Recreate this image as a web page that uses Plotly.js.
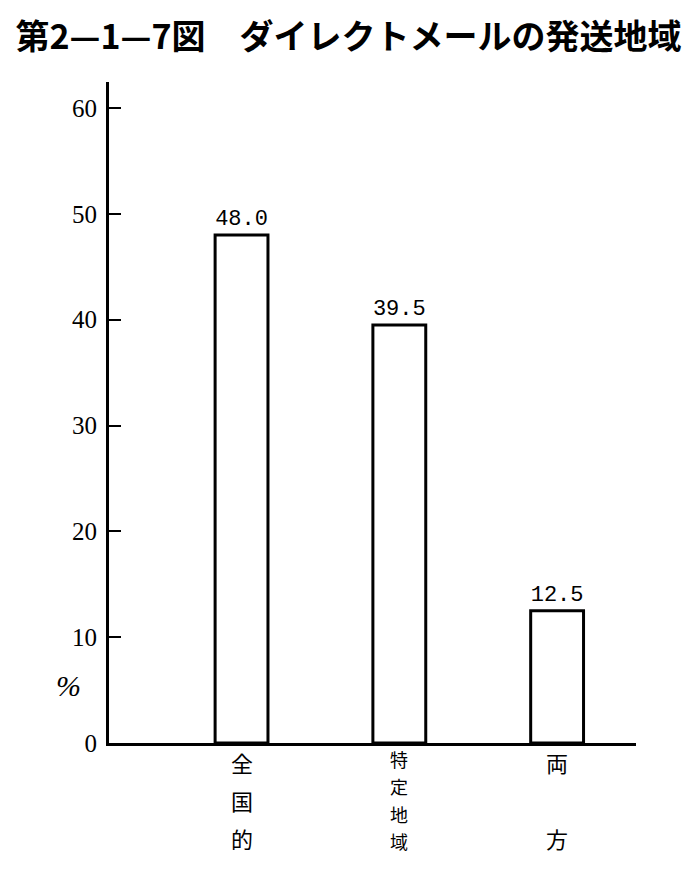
<!DOCTYPE html>
<html>
<head>
<meta charset="utf-8">
<script src="https://cdn.plot.ly/plotly-3.0.1.min.js"></script>
<style>html,body{margin:0;padding:0;background:#fff;}#chart{width:697px;height:873px;}</style>
</head>
<body>
<div id="chart"></div>
<script>
// Data
const categories = ["全国的", "特定地域", "両方"];
const values = [48.0, 39.5, 12.5];
const yTickVals = [0, 10, 20, 30, 40, 50, 60];
const yTickText = ["0", "10", "20", "30", "40", "50", "60"];
const titleText = "第2—1—7図　ダイレクトメールの発送地域";
const unitLabel = "%";

const W = 697, H = 873;
const M = {l: 109, r: 61, t: 82, b: 130};
const plotH = H - M.t - M.b;
const plotW = W - M.l - M.r;

const xIdx = categories.map((c, i) => i);

const trace = {
  type: "bar",
  x: xIdx,
  y: values,
  width: 0.335,
  marker: {color: "#ffffff", line: {color: "#000000", width: 3}},
  text: values.map(v => v.toFixed(1)),
  textposition: "outside",
  cliponaxis: false,
  textfont: {family: "Liberation Mono, monospace", size: 23, color: "#000"},
  hoverinfo: "skip"
};

// vertical category labels: one annotation per character
const annotations = [];
const toPaperY = py => (H - M.b - py) / plotH;
categories.forEach((c, i) => {
  const chars = Array.from(c);
  const n = chars.length;
  const tight = n >= 4;
  const firstPx = tight ? 759 : 762;
  const lastPx = tight ? 841 : 838;
  const size = tight ? 18 : 22;
  chars.forEach((ch, k) => {
    const py = n > 1 ? firstPx + (lastPx - firstPx) * k / (n - 1) : firstPx;
    annotations.push({
      x: i, xref: "x",
      y: toPaperY(py), yref: "paper",
      text: ch, showarrow: false,
      xanchor: "center", yanchor: "middle",
      font: {family: "Noto Sans CJK JP", size: size, color: "#000"}
    });
  });
});
annotations.push({
  x: (68 - M.l) / plotW, xref: "paper",
  y: toPaperY(685), yref: "paper",
  text: "<i>" + unitLabel + "</i>", showarrow: false,
  xanchor: "center", yanchor: "middle",
  font: {family: "Liberation Serif, serif", size: 30, color: "#000"}
});

const layout = {
  width: W, height: H,
  margin: M,
  paper_bgcolor: "#fff", plot_bgcolor: "#fff",
  showlegend: false,
  title: {
    text: "<b>" + titleText + "</b>",
    xref: "container", x: 0.5, xanchor: "center",
    yref: "container", y: 1 - 37 / H, yanchor: "middle",
    font: {family: "Noto Sans CJK JP", size: 34, color: "#000"}
  },
  xaxis: {
    range: [-0.84, 2.50],
    showticklabels: false, ticks: "",
    showgrid: false, zeroline: false,
    showline: true, linecolor: "#000", linewidth: 3,
    fixedrange: true
  },
  yaxis: {
    range: [0, 62.46],
    tickvals: yTickVals, ticktext: yTickText,
    ticks: "inside", ticklen: 12, tickwidth: 2, tickcolor: "#000",
    showgrid: false, zeroline: false,
    showline: true, linecolor: "#000", linewidth: 3,
    tickfont: {family: "Liberation Serif, serif", size: 25, color: "#000"},
    ticklabelstandoff: 4,
    fixedrange: true
  },
  annotations: annotations
};

Plotly.newPlot("chart", [trace], layout, {staticPlot: true, displayModeBar: false});
</script>
</body>
</html>
